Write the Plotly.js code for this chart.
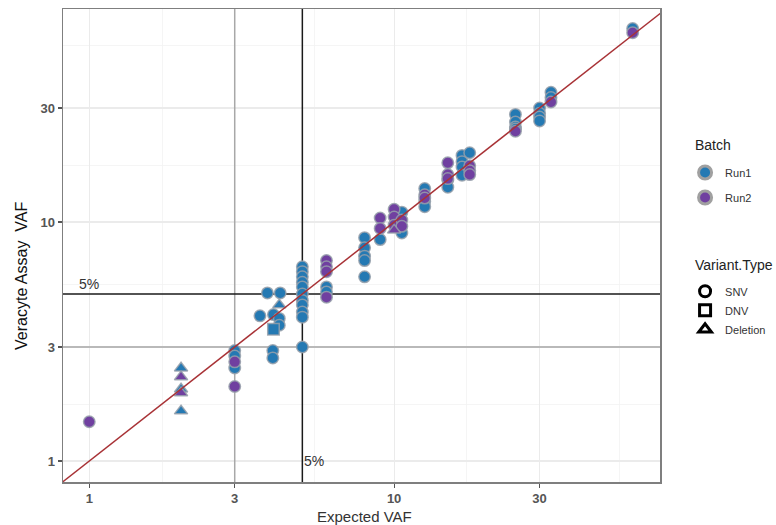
<!DOCTYPE html>
<html>
<head>
<meta charset="utf-8">
<script src="https://cdn.plot.ly/plotly-3.0.1.min.js"></script>
<style>
html,body{margin:0;padding:0;background:#fff;}
#chart{width:776px;height:525px;}
</style>
</head>
<body>
<div id="chart"></div>
<script>
// ---- Data (Expected VAF vs Veracyte Assay VAF) ----
const run1SnvX = [3,3,3, 3.63, 3.84, 4.02,4.0,4.0, 4.23,4.2,4.2,
  5,5,5,5,5,5,5,5,5,5,5, 6,6, 8,8,8,8,8, 9, 10.6,10.6,
  12.6,12.6,12.6, 15,15, 16.7,16.7,16.7,16.7, 17.7,
  25,25,25,25, 30,30,30,30, 32.7,32.7, 60.6];
const run1SnvY = [2.9,2.75,2.45, 4.05, 5.05, 4.1,2.9,2.7, 5.05,3.95,3.7,
  6.5,6.2,5.9,5.6,5.35,5.0,4.7,4.5,4.2,4.0,3.0, 5.35,5.1, 8.6,7.8,7.2,6.9,5.9, 8.45, 11.0,9.0,
  13.8,12.2,11.6, 15.0,14.0, 19.0,17.9,17.0,15.7, 19.5,
  28.2,26.2,25.0,24.5, 30.0,28.5,27.5,26.5, 34.9,33.2, 64.5];

const run2SnvX = [1, 3,3, 6,6,6,6, 9,9, 10,10,10, 10.6,10.6, 12.6,12.6,
  15,15,15, 17.7,17.7,17.7, 25, 32.7, 60.6];
const run2SnvY = [1.46, 2.6,2.05, 6.9,6.5,6.2,4.85, 10.4,9.4, 11.3,10.5,9.7, 10.2,9.6, 13.0,12.6,
  17.7,15.8,15.2, 17.2,16.4,15.8, 24.0, 31.8, 62.0];

const run1DnvX = [4.02];
const run1DnvY = [3.56];

const run1DelX = [2,2,2, 4.2];
const run1DelY = [2.45,2.0,1.62, 4.5];

const run2DelX = [2,2, 10];
const run2DelY = [2.25,1.93, 9.25];

const tickVals = [1,3,10,30];
const tickText = ['1','3','10','30'];
const minorVals = [1.732, 5.477, 17.32, 54.77];
const xRange = [0.82, 74.5];
const yRange = [0.817, 77.9];
const cutoffVAF = 5;
const guideVAF = 3;
const lineSpan = [0.5, 100];

const batchNames = ['Run1','Run2'];
const typeNames = ['SNV','DNV','Deletion'];

// ---- Styles ----
const blue = '#2479b3';
const purple = '#7040a0';
const rim = 'rgba(150,160,170,0.85)';
const mk = (color, symbol) => ({color: color, symbol: symbol, size: 11.5, line: {color: rim, width: 1.5}});

const traces = [];
// reference lines (drawn first, under points)
traces.push({x: [guideVAF, guideVAF], y: lineSpan, mode: 'lines', line: {color: '#a8a8a8', width: 1.5}, hoverinfo: 'skip', showlegend: false});
traces.push({x: lineSpan, y: [guideVAF, guideVAF], mode: 'lines', line: {color: '#a8a8a8', width: 1.5}, hoverinfo: 'skip', showlegend: false});
traces.push({x: [cutoffVAF, cutoffVAF], y: lineSpan, mode: 'lines', line: {color: '#1a1a1a', width: 1.5}, hoverinfo: 'skip', showlegend: false});
traces.push({x: lineSpan, y: [cutoffVAF, cutoffVAF], mode: 'lines', line: {color: '#1a1a1a', width: 1.5}, hoverinfo: 'skip', showlegend: false});

// points
traces.push({x: run1SnvX, y: run1SnvY, mode: 'markers', marker: mk(blue, 'circle'), showlegend: false});
traces.push({x: run1DnvX, y: run1DnvY, mode: 'markers', marker: mk(blue, 'square'), showlegend: false});
traces.push({x: run1DelX, y: run1DelY, mode: 'markers', marker: mk(blue, 'triangle-up'), showlegend: false});
traces.push({x: run2SnvX, y: run2SnvY, mode: 'markers', marker: mk(purple, 'circle'), showlegend: false});
traces.push({x: run2DelX, y: run2DelY, mode: 'markers', marker: mk(purple, 'triangle-up'), showlegend: false});

// identity line
traces.push({x: lineSpan, y: lineSpan, mode: 'lines', line: {color: '#a83236', width: 1.5}, hoverinfo: 'skip', showlegend: false});

// legend entries: Batch
[blue, purple].forEach((c, i) => {
  traces.push({x: [null], y: [null], mode: 'markers', name: batchNames[i], legend: 'legend',
    legendgroup: 'b' + i, marker: {color: c, symbol: 'circle', size: 13, line: {color: '#a0a0a0', width: 3}}});
});
// legend entries: Variant.Type
['circle-open','square-open','triangle-up-open'].forEach((s, i) => {
  traces.push({x: [null], y: [null], mode: 'markers', name: typeNames[i], legend: 'legend2',
    legendgroup: 't' + i, marker: {color: '#000', symbol: s, size: 11, line: {color: '#000', width: 3}}});
});

const axisCommon = {
  type: 'log',
  tickmode: 'array',
  tickvals: tickVals,
  ticktext: tickText,
  ticks: 'outside',
  ticklen: 4,
  tickwidth: 1.2,
  tickcolor: '#555',
  tickfont: {family: 'Liberation Sans, Arial, sans-serif', size: 13, color: '#555', weight: 'bold'},
  showgrid: true,
  gridcolor: '#ebebeb',
  gridwidth: 1.2,
  minor: {tickmode: 'array', tickvals: minorVals, showgrid: true, gridcolor: '#f3f3f3', gridwidth: 0.8, ticks: ''},
  showline: true,
  linecolor: '#7f7f7f',
  linewidth: 1.5,
  mirror: true,
  zeroline: false
};

const legendCommon = {
  xanchor: 'left', yanchor: 'top',
  font: {size: 11, color: '#333'},
  traceorder: 'grouped', itemwidth: 30,
  bgcolor: 'rgba(0,0,0,0)'
};

const layout = {
  width: 776,
  height: 525,
  margin: {l: 63, r: 116, t: 9, b: 43, autoexpand: false},
  paper_bgcolor: '#fff',
  plot_bgcolor: '#fff',
  font: {family: 'Liberation Sans, Arial, sans-serif', color: '#222'},
  xaxis: Object.assign({}, axisCommon, {range: xRange.map(Math.log10)}),
  yaxis: Object.assign({}, axisCommon, {range: yRange.map(Math.log10)}),
  legend: Object.assign({}, legendCommon, {x: 1.042, y: 0.685, tracegroupgap: 6}),
  legend2: Object.assign({}, legendCommon, {x: 1.042, y: 0.434, tracegroupgap: 0}),
  annotations: [
    {xref: 'x', yref: 'y', x: Math.log10(1), y: Math.log10(cutoffVAF), text: '5%', showarrow: false,
     xanchor: 'center', yanchor: 'bottom', font: {size: 14, color: '#333'}},
    {xref: 'x', yref: 'y', x: Math.log10(cutoffVAF), y: Math.log10(1), text: '5%', showarrow: false,
     xanchor: 'left', yanchor: 'middle', font: {size: 14, color: '#333'}},
    {xref: 'paper', yref: 'paper', x: -0.0704, y: 0.4355, text: 'Veracyte Assay\u00a0\u00a0VAF', textangle: -90,
     showarrow: false, xanchor: 'center', yanchor: 'middle', font: {size: 16, color: '#111'}},
    {xref: 'paper', yref: 'paper', x: 0.505, y: -0.072, text: 'Expected VAF', showarrow: false,
     xanchor: 'center', yanchor: 'middle', font: {size: 15, color: '#333'}},
    {xref: 'paper', yref: 'paper', x: 1.0553, y: 0.7125, text: 'Batch', showarrow: false,
     xanchor: 'left', yanchor: 'middle', font: {size: 14, color: '#222'}},
    {xref: 'paper', yref: 'paper', x: 1.0553, y: 0.4588, text: 'Variant.Type', showarrow: false,
     xanchor: 'left', yanchor: 'middle', font: {size: 14, color: '#222'}}
  ]
};

Plotly.newPlot('chart', traces, layout, {staticPlot: true, displayModeBar: false});
</script>
</body>
</html>
